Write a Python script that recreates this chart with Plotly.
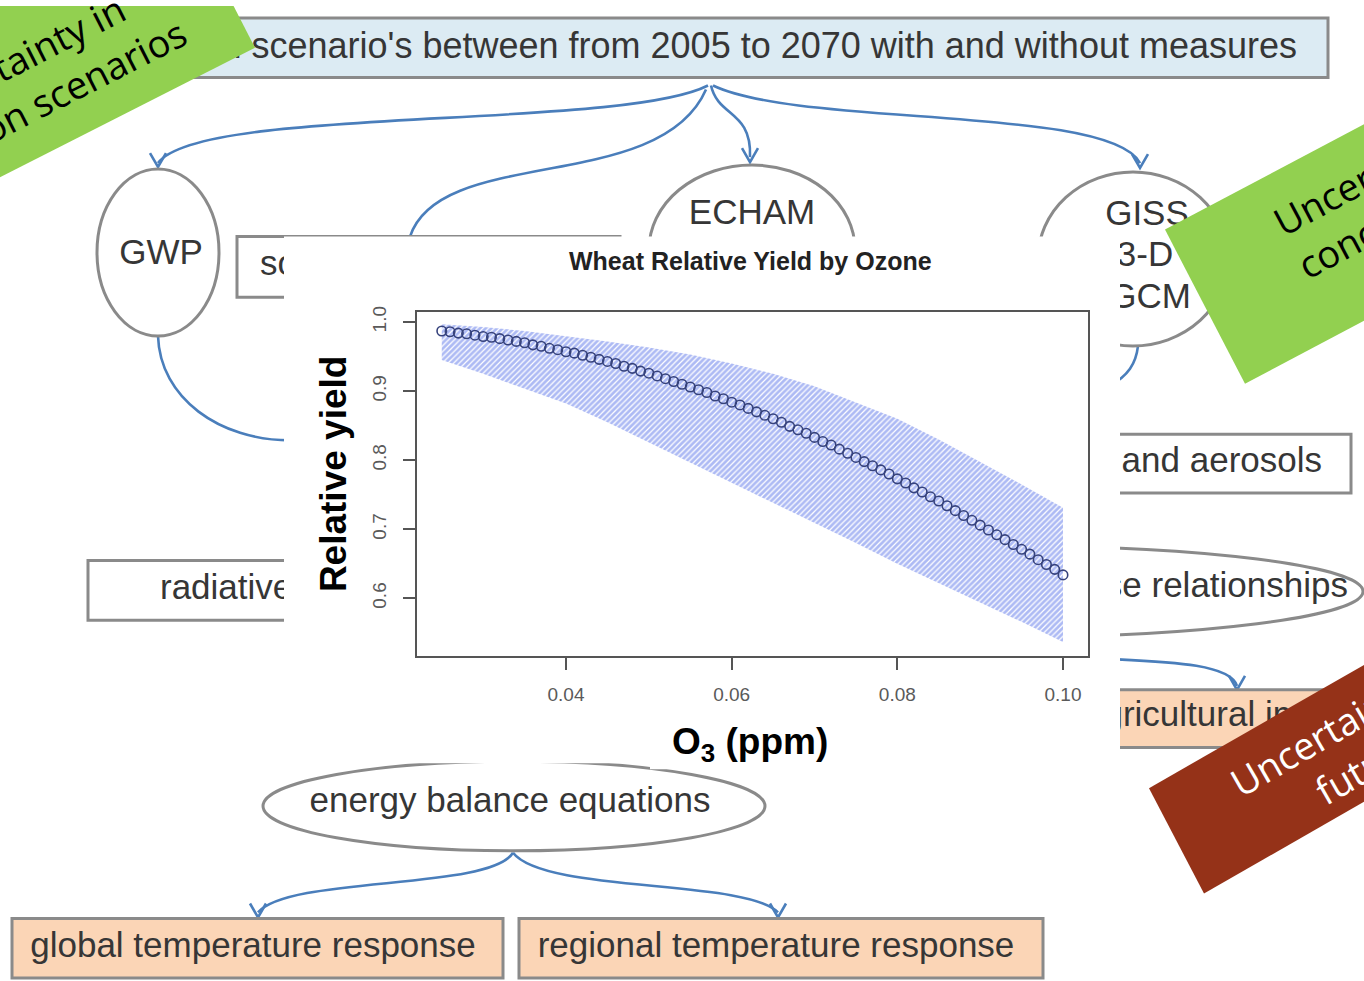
import plotly.graph_objects as go

# ---------------- data ----------------
o3_ppm = [0.025, 0.026, 0.027, 0.028, 0.029, 0.030, 0.031, 0.032, 0.033, 0.034,
          0.035, 0.036, 0.037, 0.038, 0.039, 0.040, 0.041, 0.042, 0.043, 0.044,
          0.045, 0.046, 0.047, 0.048, 0.049, 0.050, 0.051, 0.052, 0.053, 0.054,
          0.055, 0.056, 0.057, 0.058, 0.059, 0.060, 0.061, 0.062, 0.063, 0.064,
          0.065, 0.066, 0.067, 0.068, 0.069, 0.070, 0.071, 0.072, 0.073, 0.074,
          0.075, 0.076, 0.077, 0.078, 0.079, 0.080, 0.081, 0.082, 0.083, 0.084,
          0.085, 0.086, 0.087, 0.088, 0.089, 0.090, 0.091, 0.092, 0.093, 0.094,
          0.095, 0.096, 0.097, 0.098, 0.099, 0.100]
rel_yield = [0.987, 0.986, 0.984, 0.983, 0.981, 0.979, 0.978, 0.976, 0.974, 0.972,
             0.970, 0.967, 0.965, 0.962, 0.960, 0.957, 0.955, 0.952, 0.949, 0.946,
             0.943, 0.940, 0.936, 0.933, 0.929, 0.926, 0.922, 0.918, 0.914, 0.910,
             0.906, 0.902, 0.898, 0.893, 0.889, 0.884, 0.880, 0.875, 0.870, 0.865,
             0.860, 0.855, 0.849, 0.844, 0.839, 0.833, 0.827, 0.822, 0.816, 0.810,
             0.804, 0.798, 0.792, 0.786, 0.780, 0.773, 0.767, 0.760, 0.754, 0.747,
             0.741, 0.734, 0.727, 0.720, 0.713, 0.706, 0.699, 0.692, 0.685, 0.678,
             0.671, 0.664, 0.656, 0.649, 0.642, 0.634]

band_o3 = [0.025, 0.030, 0.035, 0.040, 0.045, 0.050, 0.055, 0.060,
           0.065, 0.070, 0.075, 0.080, 0.085, 0.090, 0.095, 0.100]
band_upper = [0.997, 0.993, 0.987, 0.980, 0.972, 0.963, 0.953, 0.940,
              0.925, 0.907, 0.884, 0.860, 0.830, 0.798, 0.765, 0.731]
band_lower = [0.945, 0.925, 0.904, 0.882, 0.855, 0.826, 0.797, 0.768,
              0.738, 0.709, 0.680, 0.650, 0.622, 0.594, 0.566, 0.537]

x_ticks = [0.04, 0.06, 0.08, 0.10]
x_tick_text = ["0.04", "0.06", "0.08", "0.10"]
y_ticks = [0.6, 0.7, 0.8, 0.9, 1.0]
y_tick_text = ["0.6", "0.7", "0.8", "0.9", "1.0"]

chart_title = "Wheat Relative Yield by Ozone"
x_title = "O<sub>3</sub> (ppm)"
y_title = "Relative yield"

# ---------------- figure ----------------
W, H = 1364, 981
fig = go.Figure()

DIAG_FONT = "Liberation Sans, Arial, sans-serif"
DIAG_COL = "#363636"
BLUE = "#4a7ebb"
GREY = "#8a8a8a"
PEACH = "#fbd5b6"


def txt(x, y, s, size=35, pos="middle center", color=DIAG_COL):
    fig.add_trace(go.Scatter(
        x=[x], y=[y], mode="text", text=[s], textposition=pos,
        textfont=dict(size=size, color=color, family=DIAG_FONT),
        hoverinfo="skip", showlegend=False, xaxis="x", yaxis="y"))


shapes = []


def rect(x0, y0, x1, y1, fill="white"):
    shapes.append(dict(type="rect", xref="x", yref="y", layer="below",
                       x0=x0, y0=y0, x1=x1, y1=y1, fillcolor=fill,
                       line=dict(color=GREY, width=3)))


def ell(x0, y0, x1, y1, fill="white"):
    shapes.append(dict(type="circle", xref="x", yref="y", layer="below",
                       x0=x0, y0=y0, x1=x1, y1=y1, fillcolor=fill,
                       line=dict(color=GREY, width=3)))


def curve(p, head=None):
    shapes.append(dict(type="path", xref="x", yref="y", layer="below", path=p,
                       line=dict(color=BLUE, width=2.6)))
    if head is not None:
        hx, hy = head
        shapes.append(dict(type="path", xref="x", yref="y", layer="below",
                           path=f"M{hx-8},{hy-14} L{hx},{hy} L{hx+8},{hy-14}",
                           line=dict(color=BLUE, width=2.6)))


# connectors
curve("M708,80 C620,125 200,100 158,158", head=(158, 162))
curve("M706,84 C660,190 440,140 410,232")
curve("M711,80 C718,112 752,105 750,152", head=(750, 157))
curve("M713,80 C800,122 1110,100 1140,158", head=(1140, 163))
curve("M158,332 C160,395 220,437 290,437")
curve("M1138,342 C1136,360 1128,372 1110,382")
curve("M1110,657 C1170,660 1230,662 1237,684", head=(1237, 688))
curve("M513,852 C490,890 290,875 258,912", head=(258, 917))
curve("M513,852 C545,893 745,878 778,912", head=(778, 917))

# boxes / ellipses
rect(150, 12, 1328, 72, fill="#dcebf3")
ell(97, 164, 219, 332)
rect(237, 232, 620, 293)
ell(649, 160, 855, 330)
ell(1038, 167, 1228, 342)
rect(88, 558, 600, 618)
rect(800, 431, 1351, 490)
ell(640, 543, 1363, 635)
rect(900, 688, 1420, 746, fill=PEACH)
ell(263, 760, 765, 850)
rect(12, 918, 503, 978, fill=PEACH)
rect(519, 918, 1043, 978, fill=PEACH)

# diagram texts
txt(1297, 43, "Emission scenario's between from 2005 to 2070 with and without measures",
    size=36, pos="middle left")
txt(161, 251, "GWP")
txt(260, 262, "sources", pos="middle right")
txt(752, 211, "ECHAM")
txt(1147, 212, "GISS")
txt(1145, 253, "3-D")
txt(1150, 295, "GCM")
txt(160, 588, "radiative forcing", pos="middle right")
txt(1322, 460, "greenhouse gases and aerosols", pos="middle left")
txt(1348, 586, "exposure-response relationships", pos="middle left")
txt(1084, 716, "agricultural impacts", pos="middle right")
txt(510, 802, "energy balance equations")
txt(253, 948, "global temperature response")
txt(776, 948, "regional temperature response")

# white inset background (covers the diagram behind the chart)
fig.add_trace(go.Scatter(
    x=[284, 1120, 1120, 650, 650, 284, 284],
    y=[232, 232, 768, 768, 762, 762, 232],
    mode="lines", fill="toself", fillcolor="white", line=dict(width=0),
    hoverinfo="skip", showlegend=False, xaxis="x", yaxis="y"))

# ---------------- inset chart ----------------
fig.add_trace(go.Scatter(
    x=band_o3 + band_o3[::-1], y=band_upper + band_lower[::-1],
    mode="lines", fill="toself", line=dict(width=0),
    fillcolor="rgba(255,255,255,0)",
    fillpattern=dict(shape="/", fgcolor="#5c75ea", bgcolor="rgba(255,255,255,0)",
                     size=4, solidity=0.7),
    hoverinfo="skip", showlegend=False, xaxis="x2", yaxis="y2"))

fig.add_trace(go.Scatter(
    x=o3_ppm, y=rel_yield, mode="markers",
    marker=dict(symbol="circle-open", size=9.5, color="#36427c", line=dict(width=1.6)),
    showlegend=False, xaxis="x2", yaxis="y2"))

# banners (above everything but annotations)
shapes.append(dict(type="path", xref="x", yref="y", layer="above",
                   path="M255,42 L-101,224 L-178,73 L178,-109 Z",
                   fillcolor="#92d050", line=dict(width=0)))
shapes.append(dict(type="path", xref="x", yref="y", layer="above",
                   path="M1165,225 L1245,380 L1598,192 L1518,37 Z",
                   fillcolor="#92d050", line=dict(width=0)))
shapes.append(dict(type="path", xref="x", yref="y", layer="above",
                   path="M1149,787 L1204,893 L1464,743 L1409,637 Z",
                   fillcolor="#953218", line=dict(width=0)))

BANNER_FONT = "Open Sans, DejaVu Sans, sans-serif"


def ann(px, py, text, size, color, family, angle=0):
    return dict(xref="paper", yref="paper", x=px / W, y=1 - py / H,
                xanchor="center", yanchor="middle", showarrow=False,
                text=text, textangle=angle,
                font=dict(size=size, color=color, family=family))


annotations = [
    ann(751, 257, f"<b>{chart_title}</b>", 25, "#222", DIAG_FONT),
    ann(333, 471, f"<b>{y_title}</b>", 37, "black", DIAG_FONT, -90),
    ann(750, 743, f"<b>{x_title}</b>", 37, "black", DIAG_FONT),
    ann(22, 78, "Uncertainty in<br>emission scenarios", 38, "black", BANNER_FONT, -27),
    ann(1409, 205, "Uncertainty in<br>concentration<br>levels", 38, "black", BANNER_FONT, -28),
    ann(1353, 743, "Uncertainty in<br>future", 38, "white", BANNER_FONT, -30),
]

AX_COL = "#555555"
fig.update_layout(
    width=W, height=H, margin=dict(l=0, r=0, t=0, b=0),
    paper_bgcolor="white", plot_bgcolor="rgba(0,0,0,0)",
    showlegend=False,
    xaxis=dict(domain=[0, 1], range=[0, W], visible=False, fixedrange=True),
    yaxis=dict(domain=[0, 1], range=[H, 0], visible=False, fixedrange=True),
    xaxis2=dict(domain=[417 / W, 1088 / W], range=[0.02201, 0.10302], anchor="y2",
                tickvals=x_ticks, ticktext=x_tick_text, ticks="outside", ticklen=12,
                tickwidth=1.5, tickcolor=AX_COL, showline=True, mirror=True,
                linecolor=AX_COL, linewidth=1.5, showgrid=False, zeroline=False,
                tickfont=dict(size=19, color="#5a5a5a", family=DIAG_FONT),
                ticklabelstandoff=8),
    yaxis2=dict(domain=[1 - 654 / H, 1 - 308 / H], range=[0.51655, 1.01439], anchor="x2",
                tickvals=y_ticks, ticktext=y_tick_text, ticks="outside", ticklen=12,
                tickwidth=1.5, tickcolor=AX_COL, showline=True, mirror=True,
                linecolor=AX_COL, linewidth=1.5, showgrid=False, zeroline=False,
                tickangle=-90, tickfont=dict(size=19, color="#5a5a5a", family=DIAG_FONT),
                ticklabelstandoff=10),
    shapes=shapes,
    annotations=annotations,
)

fig.write_html("out.html")
